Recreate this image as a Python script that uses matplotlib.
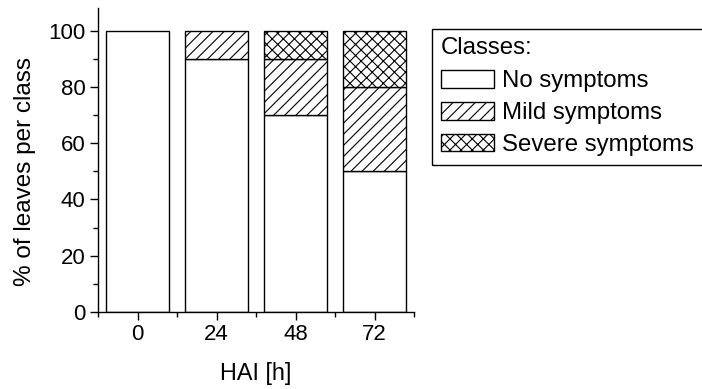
import numpy as np
import matplotlib.pyplot as plt
from matplotlib.patches import Rectangle
from matplotlib.ticker import MultipleLocator

plt.rcParams['font.family'] = ['Liberation Sans', 'DejaVu Sans']
plt.rcParams['hatch.linewidth'] = 0.8

# hours after inoculation and share of leaves in each class
hai = [0, 24, 48, 72]
no_symptoms = [100, 90, 70, 50]
mild = [0, 10, 20, 30]
severe = [0, 0, 10, 20]

fig = plt.figure(figsize=(7.02, 3.89), dpi=100)
ax = fig.add_axes([0.1396, 0.198, 0.4502, 0.781])

w = 19.2
x = np.array(hai)
bottom = np.zeros(len(hai))
series = [(no_symptoms, None, 'No symptoms'),
          (mild, '///', 'Mild symptoms'),
          (severe, 'xxx', 'Severe symptoms')]
for vals, hatch, name in series:
    vals = np.array(vals, dtype=float)
    keep = vals > 0  # skip empty segments so no stray edge is drawn
    ax.bar(x[keep], vals[keep], w, bottom=bottom[keep], facecolor='white',
           edgecolor='black', linewidth=1.0, hatch=hatch, label=name)
    bottom += vals

ax.set_xlim(-12, 84)
ax.set_ylim(0, 108)
ax.set_xticks(hai)
ax.set_xticks([-12, 12, 36, 60, 84], minor=True)
ax.yaxis.set_major_locator(MultipleLocator(20))
ax.yaxis.set_minor_locator(MultipleLocator(10))

for s in ['top', 'right']:
    ax.spines[s].set_visible(False)
ax.spines['left'].set_linewidth(1.0)
ax.spines['bottom'].set_linewidth(1.0)
ax.tick_params(axis='both', which='major', direction='out', length=6, width=1.0,
               labelsize=16, pad=3)
ax.tick_params(axis='both', which='minor', direction='out', length=3.5, width=1.0)

ax.set_xlabel('HAI [h]', fontsize=16.8, labelpad=12)
ax.set_ylabel('% of leaves per class', fontsize=17.5)
ax.yaxis.set_label_coords(-0.195, 50 / 108)

leg = fig.legend(loc='upper left', bbox_to_anchor=(441 / 702, 1 - 37 / 389),
                 title='Classes:', fontsize=17.3, title_fontsize=17.3,
                 frameon=False, handlelength=2.2, handleheight=0.75,
                 handletextpad=0.35, borderpad=0, labelspacing=0.4,
                 borderaxespad=0)
leg._legend_box.align = 'left'
leg._legend_box.sep = 8

# legend frame, runs off the right edge
fig.patches.append(Rectangle((432 / 702, 1 - 165 / 389), 0.5, 136 / 389,
                             transform=fig.transFigure, facecolor='none',
                             edgecolor='black', linewidth=1.0))

fig.savefig('out.png', dpi=100)
